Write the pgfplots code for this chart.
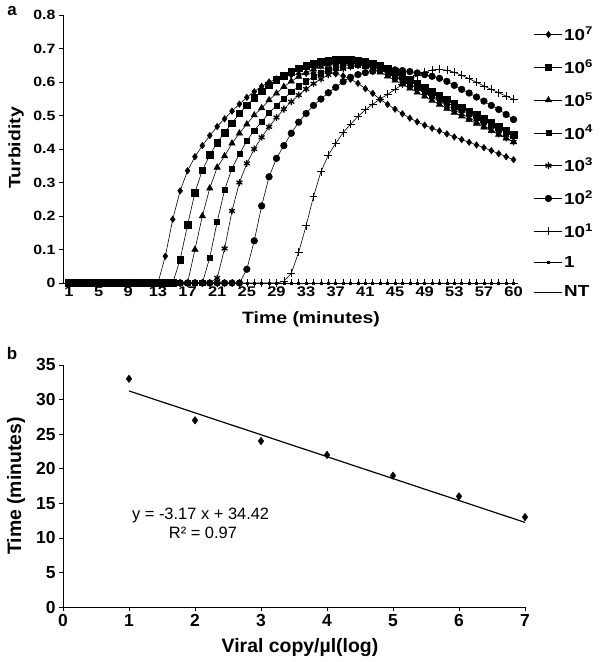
\documentclass[border=0pt]{standalone}
\usepackage{fontspec}
\setmainfont{Liberation Sans}
\newfontfamily\wfont[FakeStretch=1.18]{Liberation Sans}
\usepackage{pgfplots}
\usepackage{pgfplotstable}
\pgfplotsset{compat=1.18}
\newcommand\tky{\wfont\bfseries\fontsize{13.5}{15}\selectfont}
\newcommand\tkx{\wfont\bfseries\fontsize{14}{16}\selectfont}
\newcommand\lb{\wfont\bfseries\fontsize{16.5}{18}\selectfont}
\newcommand\legfont{\wfont\bfseries\fontsize{16}{18}\selectfont}
\newcommand\tkb{\bfseries\fontsize{17.5}{19}\selectfont}
\newcommand\lbb{\bfseries\fontsize{19.5}{21}\selectfont}
\newcommand\pan{\bfseries\fontsize{17}{19}\selectfont}

\pgfplotstableread{
i s7 s6 s5 s4 s3 s2 s1 z
1 0 0 0 0 0 0 0 0
2 0 0 0 0 0 0 0 0
3 0 0 0 0 0 0 0 0
4 0 0 0 0 0 0 0 0
5 0 0 0 0 0 0 0 0
6 0 0 0 0 0 0 0 0
7 0 0 0 0 0 0 0 0
8 0 0 0 0 0 0 0 0
9 0 0 0 0 0 0 0 0
10 0 0 0 0 0 0 0 0
11 0 0 0 0 0 0 0 0
12 0 0 0 0 0 0 0 0
13 0 0 0 0 0 0 0 0
14 0.080 0 0 0 0 0 0 0
15 0.190 0 0 0 0 0 0 0
16 0.275 0.070 0 0 0 0 0 0
17 0.335 0.173 0 0 0 0 0 0
18 0.377 0.270 0.100 0 0 0 0 0
19 0.410 0.337 0.200 0 0 0 0 0
20 0.440 0.382 0.283 0.076 0 0 0 0
21 0.467 0.419 0.345 0.183 0.015 0 0 0
22 0.490 0.449 0.379 0.278 0.103 0 0 0
23 0.513 0.477 0.417 0.342 0.215 0 0 0
24 0.534 0.506 0.447 0.385 0.300 0 0 0
25 0.554 0.530 0.474 0.424 0.357 0.041 0 0
26 0.571 0.552 0.501 0.455 0.400 0.126 0 0
27 0.587 0.572 0.522 0.482 0.435 0.230 0 0
28 0.600 0.590 0.546 0.507 0.466 0.317 0 0
29 0.609 0.606 0.566 0.530 0.494 0.372 0 0
30 0.616 0.619 0.586 0.551 0.519 0.410 0.005 0
31 0.621 0.631 0.602 0.570 0.541 0.447 0.029 0
32 0.624 0.641 0.616 0.587 0.561 0.480 0.092 0
33 0.626 0.649 0.628 0.602 0.579 0.506 0.171 0
34 0.627 0.655 0.638 0.615 0.595 0.530 0.258 0
35 0.627 0.660 0.646 0.626 0.609 0.549 0.332 0
36 0.626 0.664 0.652 0.635 0.621 0.568 0.382 0
37 0.624 0.666 0.656 0.642 0.631 0.584 0.417 0
38 0.618 0.667 0.658 0.647 0.639 0.601 0.449 0
39 0.608 0.667 0.658 0.650 0.645 0.614 0.474 0
40 0.596 0.665 0.655 0.651 0.649 0.622 0.497 0
41 0.580 0.661 0.649 0.649 0.650 0.628 0.517 0
42 0.566 0.656 0.640 0.644 0.647 0.632 0.534 0
43 0.548 0.649 0.629 0.636 0.640 0.635 0.549 0
44 0.533 0.641 0.617 0.626 0.631 0.636 0.563 0
45 0.519 0.630 0.605 0.615 0.620 0.636 0.578 0
46 0.505 0.619 0.593 0.604 0.607 0.634 0.593 0
47 0.492 0.607 0.581 0.593 0.594 0.631 0.607 0
48 0.481 0.595 0.569 0.582 0.581 0.627 0.619 0
49 0.471 0.583 0.557 0.571 0.568 0.622 0.629 0
50 0.462 0.571 0.545 0.560 0.555 0.617 0.636 0
51 0.454 0.559 0.533 0.549 0.542 0.611 0.638 0
52 0.445 0.548 0.521 0.538 0.529 0.602 0.635 0
53 0.436 0.536 0.509 0.527 0.517 0.590 0.629 0
54 0.428 0.525 0.498 0.516 0.505 0.578 0.620 0
55 0.420 0.513 0.487 0.505 0.493 0.567 0.610 0
56 0.412 0.502 0.476 0.494 0.481 0.555 0.599 0
57 0.404 0.490 0.465 0.483 0.469 0.543 0.588 0
58 0.395 0.479 0.454 0.472 0.457 0.530 0.578 0
59 0.386 0.467 0.443 0.461 0.445 0.518 0.568 0
60 0.377 0.455 0.432 0.450 0.433 0.503 0.558 0
61 0.368 0.443 0.421 0.439 0.421 0.488 0.548 0
}\turb

\begin{document}
\begin{tikzpicture}[x=1bp,y=1bp]
\useasboundingbox (0,0) rectangle (609,662);
% ---------------- panel a ----------------
\begin{axis}[
  at={(63bp,379bp)}, anchor=south west,
  scale only axis, width=455bp, height=268bp,
  xmin=0.19, xmax=61.6, ymin=0, ymax=0.8,
  axis x line*=bottom, axis y line*=left,
  axis line style={line width=0.8pt},
  xtick={1,5,...,61},
  xticklabels={1,5,9,13,17,21,25,29,33,37,41,45,49,53,57,60},
  minor xtick={1,...,61},
  xtick align=inside, ytick align=outside,
  major tick length=4bp, minor tick length=4bp,
  tick style={black, line width=0.6pt},
  ytick={0,0.1,0.2,0.3,0.4,0.5,0.6,0.7,0.8},
  yticklabels={0,0.1,0.2,0.3,0.4,0.5,0.6,0.7,0.8},
  xticklabel style={font=\tkx},
  yticklabel style={font=\tky},
  clip=false,
  every axis plot/.append style={black, line width=0.6pt, mark options={solid, fill=black}},
  legend style={draw=none, fill=none, at={(rel axis cs:1.035,0.962)}, anchor=north west,
    inner sep=0pt, row sep=14.3bp, font=\legfont, nodes={inner sep=1.5bp}},
  legend cell align=left,
  legend image code/.code={\draw[mark repeat=2,mark phase=2,#1] plot coordinates {(0bp,0bp) (14bp,0bp) (28bp,0bp)};},
]
\addplot[mark=diamond*, mark size=3.2] table[x=i,y=s7] {\turb};
\addlegendentry{10\textsuperscript{7}}
\addplot[mark=square*, mark size=3.3] table[x=i,y=s6] {\turb};
\addlegendentry{10\textsuperscript{6}}
\addplot[mark=triangle*, mark size=3.6] table[x=i,y=s5] {\turb};
\addlegendentry{10\textsuperscript{5}}
\addplot[mark=square*, mark size=2.6] table[x=i,y=s4] {\turb};
\addlegendentry{10\textsuperscript{4}}
\addplot[mark=asterisk, mark size=3.4, mark options={line width=1.3pt}] table[x=i,y=s3] {\turb};
\addlegendentry{10\textsuperscript{3}}
\addplot[mark=*, mark size=3.3] table[x=i,y=s2] {\turb};
\addlegendentry{10\textsuperscript{2}}
\addplot[mark=+, mark size=4] table[x=i,y=s1] {\turb};
\addlegendentry{10\textsuperscript{1}}
\addplot[mark=square*, mark size=1] table[x=i,y=z] {\turb};
\addlegendentry{1}
\addplot[no marks] table[x=i,y=z] {\turb};
\addlegendentry{NT}
\end{axis}
% ---------------- panel b ----------------
\begin{axis}[
  at={(63bp,55bp)}, anchor=south west,
  scale only axis, width=462bp, height=242bp,
  xmin=0, xmax=7, ymin=0, ymax=35,
  axis x line*=bottom, axis y line*=left,
  axis line style={line width=0.8pt},
  xtick={0,1,...,7}, ytick={0,5,...,35},
  tick align=outside, major tick length=4bp,
  tick style={black, line width=0.6pt},
  ticklabel style={font=\tkb, /pgf/number format/assume math mode=true},
  clip=false,
]
\addplot[only marks, mark=diamond*, mark size=3.8, black] coordinates {(1,33) (2,27) (3,24) (4,22) (5,19) (6,16) (7,13)};
\addplot[no marks, black, line width=1.2pt] coordinates {(1,31.25) (7,12.23)};
\node[font=\fontsize{16.5}{18}\selectfont] at (axis cs:2.085,13.3) {y = -3.17 x + 34.42};
\node[font=\fontsize{16.5}{18}\selectfont] at (axis cs:2.12,10.7) {R² = 0.97};
\end{axis}
% ---------------- labels ----------------
\node[font=\pan] at (12,651) {a};
\node[font=\pan] at (12,309) {b};
\node[font=\lb, rotate=90] at (16,514) {Turbidity};
\node[font=\lb] at (311,343) {Time (minutes)};
\node[font=\lbb, rotate=90] at (16,176) {Time (minutes)};
\node[font=\lbb] at (300,14) {Viral copy/µl(log)};
\end{tikzpicture}
\end{document}
